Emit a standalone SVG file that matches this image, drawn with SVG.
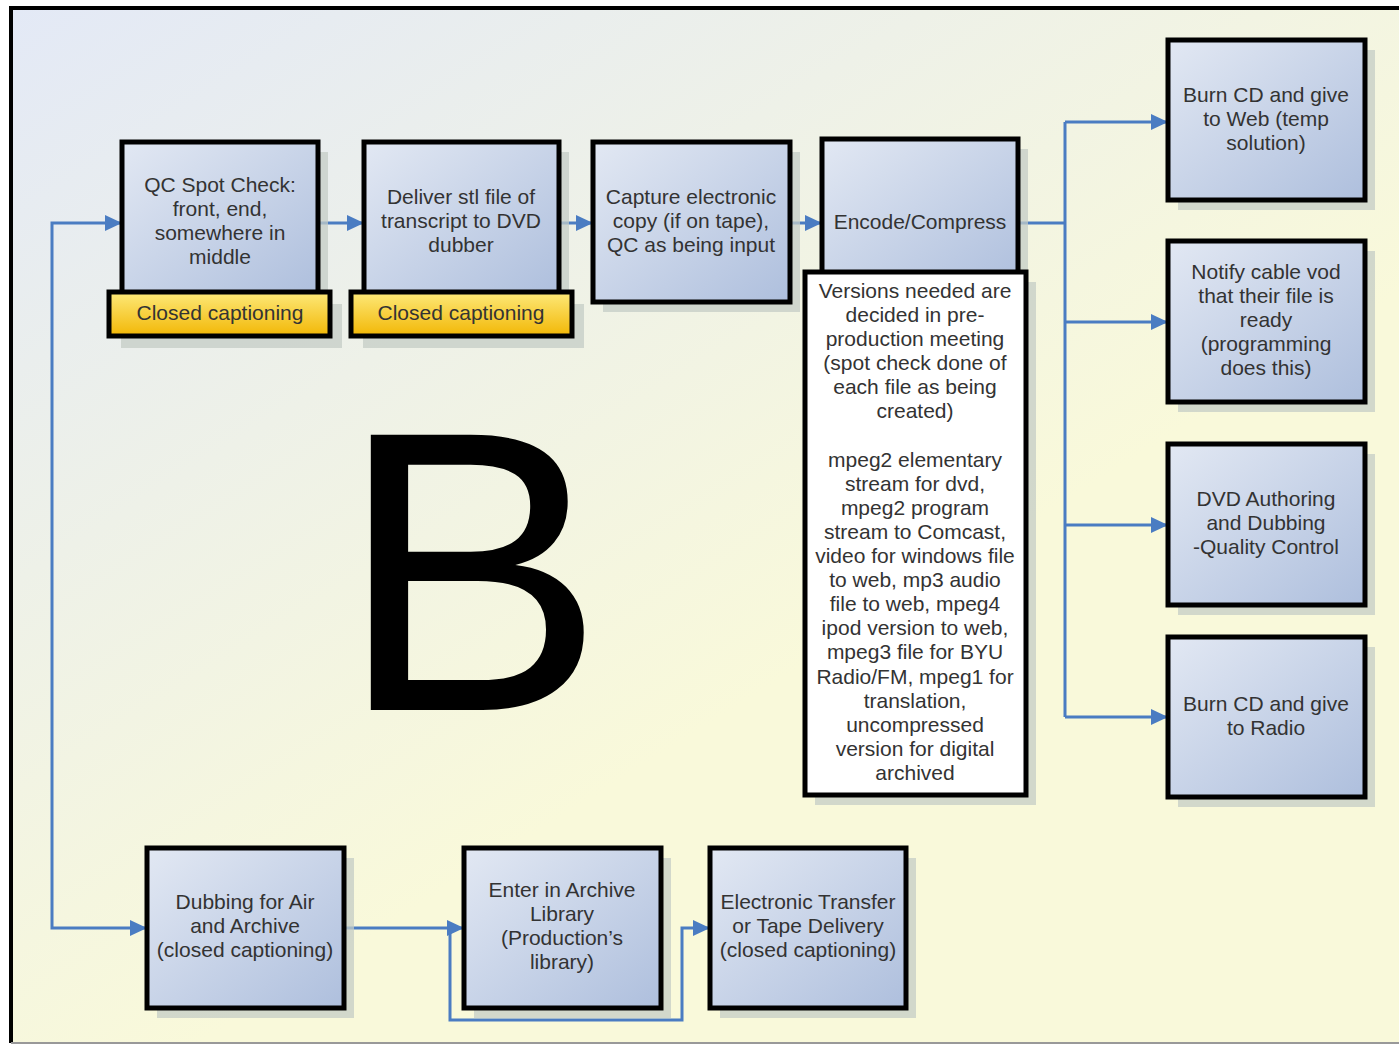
<svg xmlns="http://www.w3.org/2000/svg" width="1399" height="1045" viewBox="0 0 1399 1045">
<defs>
<linearGradient id="bg" x1="0" y1="0" x2="0.55" y2="0.65">
<stop offset="0" stop-color="#e3e9f6"/>
<stop offset="1" stop-color="#f9f9da"/>
</linearGradient>
<linearGradient id="box" x1="0" y1="0" x2="1" y2="1">
<stop offset="0" stop-color="#e2e8f3"/>
<stop offset="1" stop-color="#aebfdd"/>
</linearGradient>
<linearGradient id="cap" x1="0" y1="0" x2="0" y2="1">
<stop offset="0" stop-color="#fde97a"/>
<stop offset="1" stop-color="#f2b705"/>
</linearGradient>
<marker id="ah" markerUnits="userSpaceOnUse" markerWidth="18" markerHeight="16" refX="16" refY="8" orient="auto">
<path d="M0,0 L17,8 L0,16 Z" fill="#4a7cc2"/>
</marker>
</defs>
<style>
.sh{fill:#c4ccc6;opacity:0.75}
.bx{fill:url(#box);stroke:#000;stroke-width:5}
.cp{fill:url(#cap);stroke:#000;stroke-width:5}
.nt{fill:#fff;stroke:#000;stroke-width:5}
.t{font-family:"Liberation Sans",Arial,sans-serif;font-size:21px;fill:#333;text-anchor:middle}
.c{fill:none;stroke:#4a7cc2;stroke-width:3}
</style>
<rect x="0" y="0" width="1399" height="1045" fill="#fff"/>
<rect x="11" y="8" width="1400" height="1034" fill="url(#bg)"/>
<path d="M11,1043 V8 H1399" fill="none" stroke="#000" stroke-width="4"/>
<line x1="11" y1="1043" x2="1399" y2="1043" stroke="#999" stroke-width="2"/>

<text x="338" y="710" font-family="Liberation Sans,Arial,sans-serif" font-size="400" fill="#000">B</text>

<g id="connectors">
<path class="c" d="M52,575 V223 H121" marker-end="url(#ah)"/>
<path class="c" d="M52,575 V928 H146" marker-end="url(#ah)"/>
<path class="c" d="M318,223 H363" marker-end="url(#ah)"/>
<path class="c" d="M559,223 H592" marker-end="url(#ah)"/>
<path class="c" d="M790,223 H821" marker-end="url(#ah)"/>
<path class="c" d="M1018,223 H1065"/>
<path class="c" d="M1065,122 V717"/>
<path class="c" d="M1065,122 H1167" marker-end="url(#ah)"/>
<path class="c" d="M1065,322 H1167" marker-end="url(#ah)"/>
<path class="c" d="M1065,525 H1167" marker-end="url(#ah)"/>
<path class="c" d="M1065,717 H1167" marker-end="url(#ah)"/>
<path class="c" d="M344,928 H463" marker-end="url(#ah)"/>
<path class="c" d="M450,928 V1020 H682 V928 H709" marker-end="url(#ah)"/>
</g>

<g id="qc">
<rect class="sh" x="132" y="152" width="196" height="153"/>
<rect class="bx" x="122" y="142" width="196" height="153"/>
<text class="t" x="220" y="192">QC Spot Check:</text>
<text class="t" x="220" y="216">front, end,</text>
<text class="t" x="220" y="240">somewhere in</text>
<text class="t" x="220" y="264">middle</text>
</g>
<g id="qc-cap">
<rect class="sh" x="121" y="304" width="221" height="44"/>
<rect class="cp" x="109" y="292" width="221" height="44"/>
<text class="t" x="220" y="320">Closed captioning</text>
</g>

<g id="deliver">
<rect class="sh" x="374" y="152" width="195" height="153"/>
<rect class="bx" x="364" y="142" width="195" height="153"/>
<text class="t" x="461" y="204">Deliver stl file of</text>
<text class="t" x="461" y="228">transcript to DVD</text>
<text class="t" x="461" y="252">dubber</text>
</g>
<g id="deliver-cap">
<rect class="sh" x="363" y="304" width="221" height="44"/>
<rect class="cp" x="351" y="292" width="221" height="44"/>
<text class="t" x="461" y="320">Closed captioning</text>
</g>

<g id="capture">
<rect class="sh" x="603" y="152" width="197" height="160"/>
<rect class="bx" x="593" y="142" width="197" height="160"/>
<text class="t" x="691" y="204">Capture electronic</text>
<text class="t" x="691" y="228">copy (if on tape),</text>
<text class="t" x="691" y="252">QC as being input</text>
</g>

<g id="encode">
<rect class="sh" x="832" y="149" width="196" height="150"/>
<rect class="bx" x="822" y="139" width="196" height="150"/>
<text class="t" x="920" y="229">Encode/Compress</text>
</g>

<g id="versions">
<rect class="sh" x="815" y="282" width="221" height="523"/>
<rect class="nt" x="805" y="272" width="221" height="523"/>
<text class="t" x="915" y="298">Versions needed are</text>
<text class="t" x="915" y="322">decided in pre-</text>
<text class="t" x="915" y="346">production meeting</text>
<text class="t" x="915" y="370">(spot check done of</text>
<text class="t" x="915" y="394">each file as being</text>
<text class="t" x="915" y="418">created)</text>
<text class="t" x="915" y="467">mpeg2 elementary</text>
<text class="t" x="915" y="491">stream for dvd,</text>
<text class="t" x="915" y="515">mpeg2 program</text>
<text class="t" x="915" y="539">stream to Comcast,</text>
<text class="t" x="915" y="563">video for windows file</text>
<text class="t" x="915" y="587">to web, mp3 audio</text>
<text class="t" x="915" y="611">file to web, mpeg4</text>
<text class="t" x="915" y="635">ipod version to web,</text>
<text class="t" x="915" y="659">mpeg3 file for BYU</text>
<text class="t" x="915" y="684">Radio/FM, mpeg1 for</text>
<text class="t" x="915" y="708">translation,</text>
<text class="t" x="915" y="732">uncompressed</text>
<text class="t" x="915" y="756">version for digital</text>
<text class="t" x="915" y="780">archived</text>
</g>

<g id="burn-web">
<rect class="sh" x="1178" y="50" width="197" height="160"/>
<rect class="bx" x="1168" y="40" width="197" height="160"/>
<text class="t" x="1266" y="102">Burn CD and give</text>
<text class="t" x="1266" y="126">to Web (temp</text>
<text class="t" x="1266" y="150">solution)</text>
</g>

<g id="notify">
<rect class="sh" x="1178" y="251" width="197" height="161"/>
<rect class="bx" x="1168" y="241" width="197" height="161"/>
<text class="t" x="1266" y="279">Notify cable vod</text>
<text class="t" x="1266" y="303">that their file is</text>
<text class="t" x="1266" y="327">ready</text>
<text class="t" x="1266" y="351">(programming</text>
<text class="t" x="1266" y="375">does this)</text>
</g>

<g id="dvd">
<rect class="sh" x="1178" y="454" width="197" height="161"/>
<rect class="bx" x="1168" y="444" width="197" height="161"/>
<text class="t" x="1266" y="506">DVD Authoring</text>
<text class="t" x="1266" y="530">and Dubbing</text>
<text class="t" x="1266" y="554">-Quality Control</text>
</g>

<g id="burn-radio">
<rect class="sh" x="1178" y="647" width="197" height="160"/>
<rect class="bx" x="1168" y="637" width="197" height="160"/>
<text class="t" x="1266" y="711">Burn CD and give</text>
<text class="t" x="1266" y="735">to Radio</text>
</g>

<g id="dubbing">
<rect class="sh" x="157" y="858" width="197" height="160"/>
<rect class="bx" x="147" y="848" width="197" height="160"/>
<text class="t" x="245" y="909">Dubbing for Air</text>
<text class="t" x="245" y="933">and Archive</text>
<text class="t" x="245" y="957">(closed captioning)</text>
</g>

<g id="archive">
<rect class="sh" x="474" y="858" width="197" height="160"/>
<rect class="bx" x="464" y="848" width="197" height="160"/>
<text class="t" x="562" y="897">Enter in Archive</text>
<text class="t" x="562" y="921">Library</text>
<text class="t" x="562" y="945">(Production’s</text>
<text class="t" x="562" y="969">library)</text>
</g>

<g id="transfer">
<rect class="sh" x="720" y="858" width="196" height="160"/>
<rect class="bx" x="710" y="848" width="196" height="160"/>
<text class="t" x="808" y="909">Electronic Transfer</text>
<text class="t" x="808" y="933">or Tape Delivery</text>
<text class="t" x="808" y="957">(closed captioning)</text>
</g>
</svg>
